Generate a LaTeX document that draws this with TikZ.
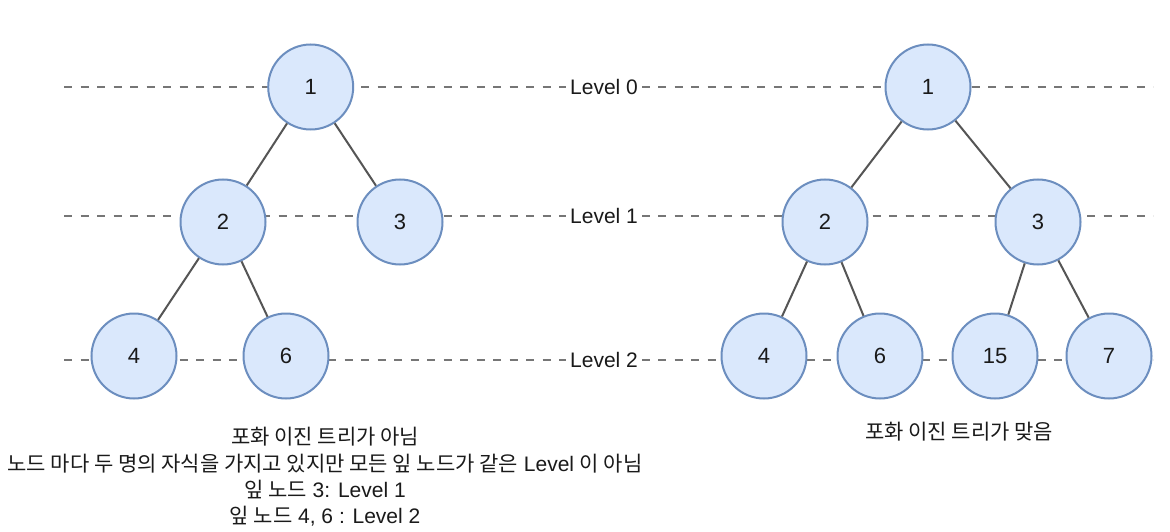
\documentclass[tikz,border=0pt]{standalone}
\usepackage{fontspec}
\setmainfont{Liberation Sans}
\newfontfamily\krfont{Noto Sans CJK KR}
\definecolor{nodefill}{HTML}{DAE8FC}
\definecolor{nodedraw}{HTML}{6C8EBF}
\definecolor{edgegray}{HTML}{555555}
\definecolor{dashgray}{HTML}{767676}
\definecolor{textblack}{HTML}{1A1A1A}
\newcommand{\kr}{\krfont\fontsize{21}{26}\selectfont}
\begin{document}
\begin{tikzpicture}[x=1pt,y=-1pt,
  treenode/.style={circle,draw=nodedraw,fill=nodefill,line width=2pt,minimum size=85pt,inner sep=0pt,text=textblack,font=\fontsize{22}{26}\selectfont},
  edge/.style={draw=edgegray,line width=2pt},
  levelline/.style={draw=dashgray,line width=2.5pt,dash pattern=on 8pt off 8.5pt},
  levellabel/.style={fill=white,inner sep=4pt,text=textblack,font=\fontsize{21}{25}\selectfont},
  caption/.style={anchor=base,inner sep=0pt,text=textblack,font=\fontsize{21}{26}\selectfont}]
\useasboundingbox (0,0) rectangle (1170,532);
\fill[white] (0,0) rectangle (1170,532);

% level lines
\coordinate (l0a) at (64,87);  \coordinate (l0b) at (1153,87);
\coordinate (l1a) at (64,216); \coordinate (l1b) at (1153,216);
\coordinate (l2a) at (64,360); \coordinate (l2b) at (1153,360);
\draw[levelline] (l0a) -- (l0b);
\draw[levelline] (l1a) -- (l1b);
\draw[levelline] (l2a) -- (l2b);

% left tree
\node[treenode] (a1) at (310.7,87) {1};
\node[treenode] (a2) at (223,222) {2};
\node[treenode] (a3) at (400,222) {3};
\node[treenode] (a4) at (134,356) {4};
\node[treenode] (a6) at (286,356) {6};
\draw[edge] (a1) -- (a2);
\draw[edge] (a1) -- (a3);
\draw[edge] (a2) -- (a4);
\draw[edge] (a2) -- (a6);

% right tree
\node[treenode] (b1) at (928,87) {1};
\node[treenode] (b2) at (825,222) {2};
\node[treenode] (b3) at (1038,222) {3};
\node[treenode] (b4) at (764,356) {4};
\node[treenode] (b6) at (880,356) {6};
\node[treenode] (b15) at (995,356) {15};
\node[treenode] (b7) at (1109,356) {7};
\draw[edge] (b1) -- (b2);
\draw[edge] (b1) -- (b3);
\draw[edge] (b2) -- (b4);
\draw[edge] (b2) -- (b6);
\draw[edge] (b3) -- (b15);
\draw[edge] (b3) -- (b7);

% level labels
\node[levellabel] (lv0) at (604,87) {Level 0};
\node[levellabel] (lv1) at (604,216) {Level 1};
\node[levellabel] (lv2) at (604,360) {Level 2};

% captions
\node[caption] (c1) at (325,444) {{\kr 포화 이진 트리가 아님}};
\node[caption] (c2) at (325,471) {{\kr 노드 마다 두 명의 자식을 가지고 있지만 모든 잎 노드가 같은} Level {\kr 이 아님}};
\node[caption] (c3) at (325,497) {{\kr 잎 노드} 3: Level 1};
\node[caption] (c4) at (325,523) {{\kr 잎 노드} 4, 6 : Level 2};
\node[caption] (c5) at (959,439) {{\kr 포화 이진 트리가 맞음}};
\end{tikzpicture}
\end{document}
